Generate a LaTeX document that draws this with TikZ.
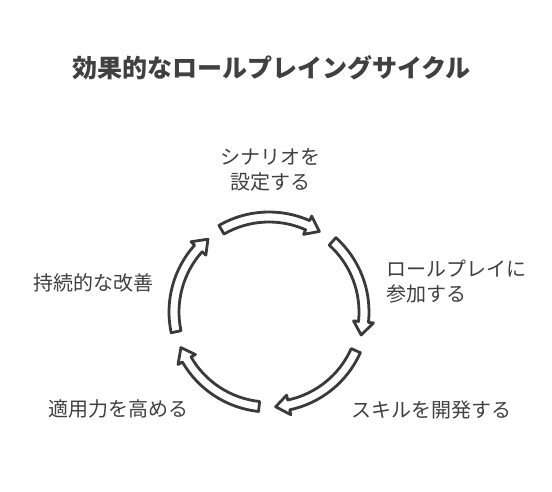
\documentclass[tikz,border=0pt]{standalone}
\usepackage{fontspec}
\setmainfont{Noto Sans CJK JP}
\definecolor{ink}{HTML}{3A3A3A}
\definecolor{txt}{HTML}{404040}
\begin{document}
\begin{tikzpicture}[x=1pt,y=1pt,
  arrowshape/.style={draw=ink, fill=white, line width=2.8pt, line join=round},
  lbl/.style={text=txt, font=\fontsize{20}{25}\selectfont, inner sep=0pt, align=left},
  ttl/.style={text=txt, font=\bfseries\fontsize{25}{28}\selectfont, inner sep=0pt}]
\useasboundingbox (0,0) rectangle (552,492);
\fill[white] (0,0) rectangle (552,492);
\node[ttl] (title) at (271.5,424) {効果的なロールプレイングサイクル};
\begin{scope}[shift={(269,180)}]
\def\R{95}
\pgfmathsetmacro\ro{\R+5}
\pgfmathsetmacro\ri{\R-5}
\pgfmathsetmacro\ho{\R+10}
\pgfmathsetmacro\hi{\R-10}
\foreach \k in {0,...,4}{
  \pgfmathsetmacro\a{120-72*\k}
  \pgfmathsetmacro\b{58-72*\k}
  \pgfmathsetmacro\c{\b+8}
  \draw[arrowshape] (\a:\ro pt) arc[start angle=\a, end angle=\c, radius=\ro pt]
     -- (\c:\ho pt) -- (\b:\R pt) -- (\c:\hi pt) -- (\c:\ri pt)
     arc[start angle=\c, end angle=\a, radius=\ri pt] -- cycle;
}
\end{scope}
\node[lbl, align=center] (l1) at (270,322) {シナリオを\\設定する};
\node[lbl, anchor=west] (l2) at (386,210.5) {ロールプレイに\\参加する};
\node[lbl, anchor=west] (l3) at (351,82) {スキルを開発する};
\node[lbl, anchor=east] (l4) at (189,83) {適用力を高める};
\node[lbl, anchor=east] (l5) at (154,209) {持続的な改善};
\end{tikzpicture}
\end{document}
